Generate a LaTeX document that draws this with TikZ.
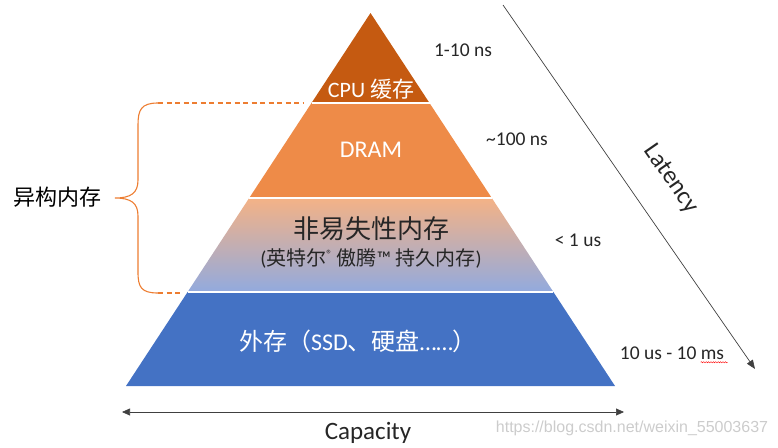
\documentclass[tikz,border=0pt]{standalone}
\usepackage{fontspec}
\setmainfont{Carlito}
\newfontfamily\cjk{Noto Sans CJK SC}
\newfontfamily\wmfont{Liberation Sans}
\usetikzlibrary{arrows.meta,decorations.pathmorphing}
\definecolor{cpucol}{RGB}{197,90,17}
\definecolor{dramcol}{RGB}{238,139,72}
\definecolor{nvtop}{RGB}{244,178,134}
\definecolor{nvmid}{RGB}{218,170,192}
\definecolor{nvbot}{RGB}{146,170,222}
\definecolor{diskcol}{RGB}{68,114,196}
\definecolor{bracecol}{RGB}{237,125,49}
\newcommand{\fs}[1]{\fontsize{#1}{#1}\selectfont}

\begin{document}
\begin{tikzpicture}[x=1pt,y=-1pt]
\tikzstyle{timelbl}=[font=\fs{19.5}, text=black!85]
\tikzstyle{sep}=[white, line width=1.8pt]
\tikzstyle{brace}=[bracecol, line width=1.1pt]
\tikzstyle{axis}=[black!75, line width=0.7pt]
\useasboundingbox (0,0) rectangle (778,447);

% pyramid layers
\fill[cpucol] (370.5,13) -- (429.5,103) -- (311.5,103) -- cycle;
\fill[dramcol] (311.5,103) -- (429.5,103) -- (491.8,198) -- (249.2,198) -- cycle;
\shade[top color=nvtop, middle color=nvmid, bottom color=nvbot]
  (249.2,198) -- (491.8,198) -- (553.4,292) -- (187.6,292) -- cycle;
\fill[diskcol] (187.6,292) -- (553.4,292) -- (615,386) -- (126,386) -- cycle;
\draw[sep] (311.5,103) -- (429.5,103);
\draw[sep] (249.2,198) -- (491.8,198);
\draw[sep] (187.6,292) -- (553.4,292);

\node[text=white, font=\fs{22}] (cpu) at (371,89) {CPU {\cjk 缓存}};
\node[text=white, font=\fs{24}] (dram) at (371,150) {DRAM};
\node[text=black!85, font=\cjk\fs{26}] (nvm) at (371,229) {非易失性内存};
\node[text=black!85, font=\fs{20}] (nvmsub) at (371,258)
  {({\cjk 英特尔}\raisebox{0.35em}{\fs{12}®} {\cjk 傲腾}™ {\cjk 持久内存})};
\node[text=white, font=\fs{24}] (disk) at (358,341)
  {{\cjk 外存（}SSD{\cjk 、硬盘}……{\cjk ）}};

% latency labels
\node[timelbl] (t1) at (463,50) {1-10 ns};
\node[timelbl] (t2) at (517,139) {\textasciitilde100 ns};
\node[timelbl] (t3) at (578,240) {< 1 us};
\node[timelbl] (t4) at (672,353) {10 us - 10 ms};
\draw[red, line width=0.4pt, decorate, decoration={snake, amplitude=0.6pt, segment length=2.4pt}]
  ([xshift=-27pt,yshift=-3pt]t4.base east) -- ([yshift=-3pt]t4.base east);

% axes
\coordinate (lat0) at (503,5);
\coordinate (lat1) at (755,369);
\draw[axis, -{Triangle[length=9pt,width=7pt]}] (lat0) -- (lat1);
\node[font=\fs{25}, rotate=-55.3, text=black!85] (lat) at (671,179) {Latency};
\coordinate (capL) at (122,412);
\coordinate (capR) at (624,412);
\draw[axis, {Triangle[length=8pt,width=7pt]}-{Triangle[length=8pt,width=7pt]}] (capL) -- (capR);
\node[font=\fs{25}, text=black!85] (cap) at (368,433) {Capacity};

% heterogeneous memory brace
\draw[brace] (158,103) .. controls (141,103) and (138,110) .. (138,125) -- (138,180)
  .. controls (138,193) and (131,198) .. (115,198)
  .. controls (131,198) and (138,203) .. (138,216) -- (138,272)
  .. controls (138,287) and (141,293) .. (158,293);
\draw[brace, dash pattern=on 5pt off 3.5pt] (158,103) -- (303,103);
\draw[brace, dash pattern=on 5pt off 3.5pt] (158,293) -- (181,293);
\node[font=\cjk\fs{22}, text=black] (hetero) at (57,197) {异构内存};

\node[font=\wmfont\fs{16}, text=black!20] (wm) at (632,428) {https://blog.csdn.net/weixin\_55003637};
\end{tikzpicture}
\end{document}
